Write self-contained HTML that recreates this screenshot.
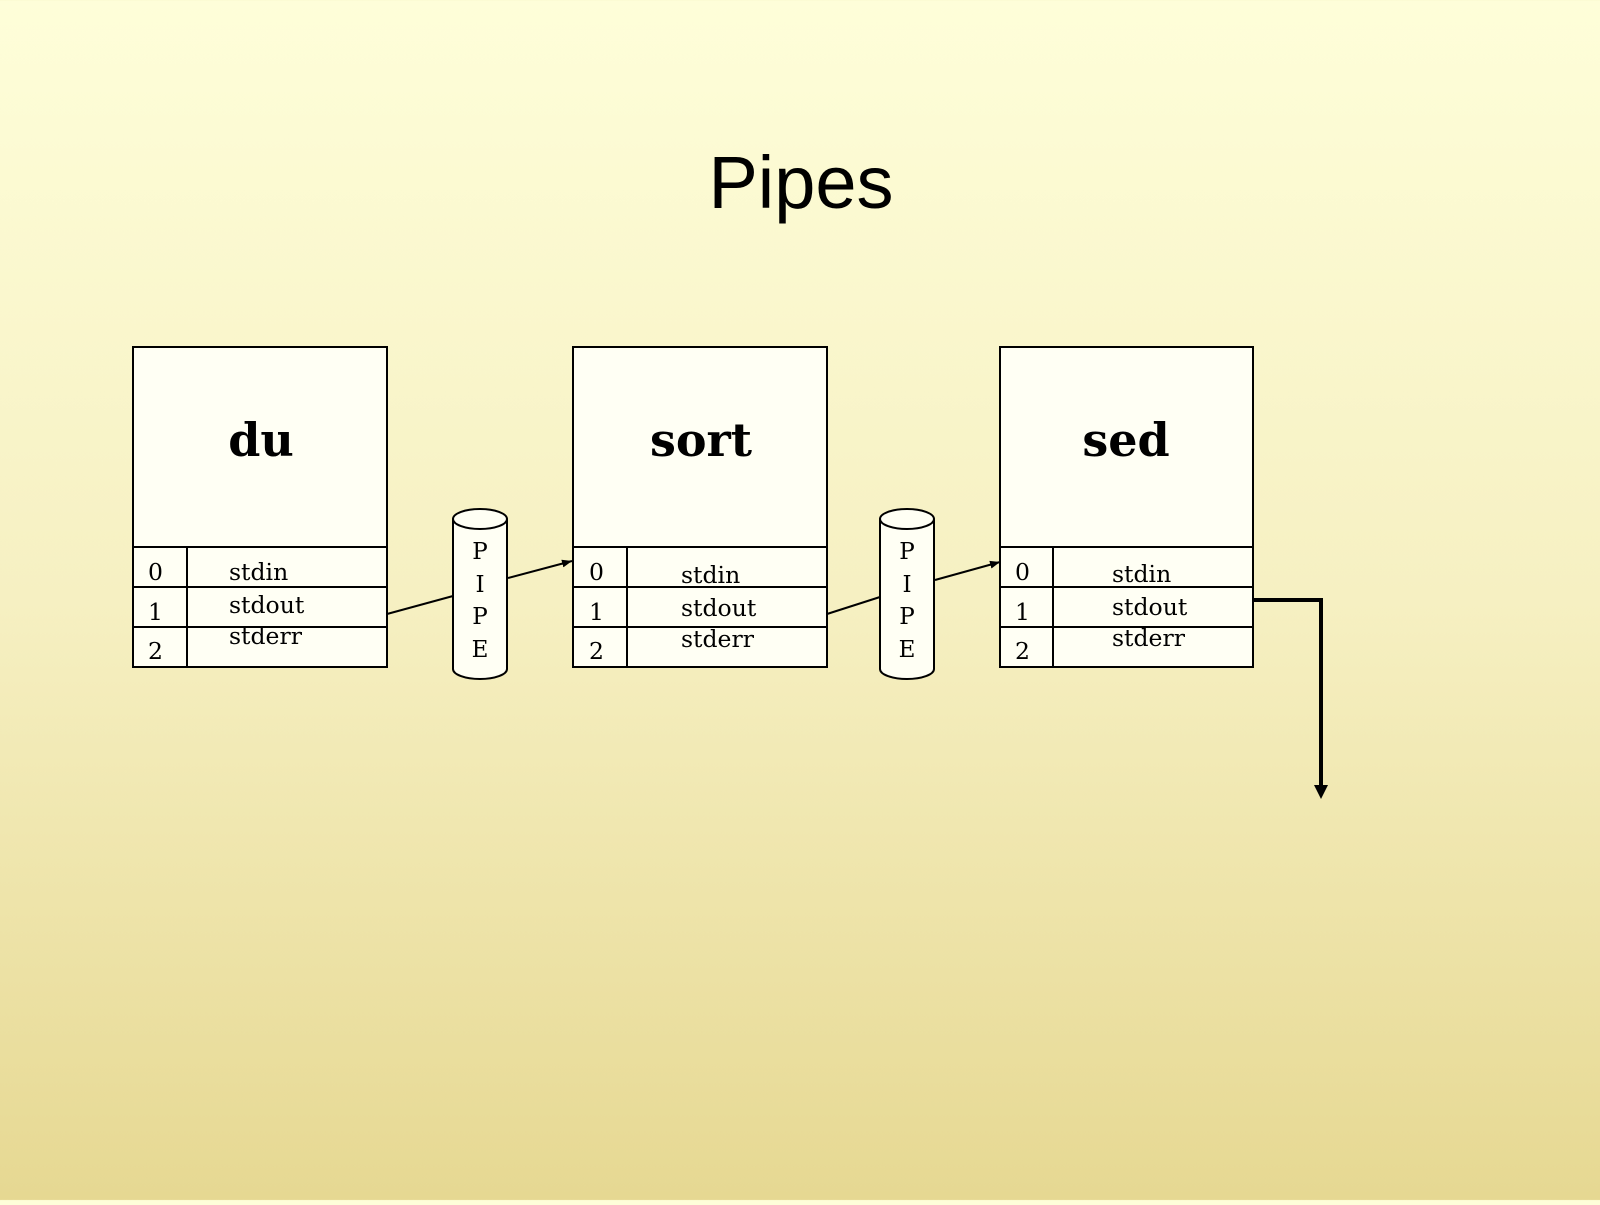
<!DOCTYPE html>
<html><head><style>
html,body{margin:0;padding:0}
body{width:1600px;height:1200px;overflow:hidden;background:linear-gradient(#fefed9,#f6f0c2 50%,#e6d892);}
</style></head><body>
<svg width="1600" height="1200" xmlns="http://www.w3.org/2000/svg">
<defs><marker id="a" markerWidth="10" markerHeight="8" refX="10" refY="4" orient="auto" markerUnits="userSpaceOnUse"><path d="M0,0 L10,4 L0,8z" fill="#000"/></marker></defs>
<text x="801" y="208" font-family="Liberation Sans, sans-serif" font-size="74" text-anchor="middle">Pipes</text>
<g stroke="#000" stroke-width="2" fill="#fffff4">
<rect x="133" y="347" width="254" height="320"/>
<rect x="573" y="347" width="254" height="320"/>
<rect x="1000" y="347" width="253" height="320"/>
</g>
<g stroke="#000" stroke-width="2" fill="none">
<path d="M133 547H387M133 587H387M133 627H387M187 547V667"/>
<path d="M573 547H827M573 587H827M573 627H827M627 547V667"/>
<path d="M1000 547H1253M1000 587H1253M1000 627H1253M1053 547V667"/>
<path d="M453 519V669A27 10 0 0 0 507 669V519" fill="#fffff4"/>
<ellipse cx="480" cy="519" rx="27" ry="10" fill="#fffff4"/>
<path d="M880 519V669A27 10 0 0 0 934 669V519" fill="#fffff4"/>
<ellipse cx="907" cy="519" rx="27" ry="10" fill="#fffff4"/>
<path d="M387 614L453 596"/>
<path d="M508 578L572 561" marker-end="url(#a)"/>
<path d="M827 614L880 597"/>
<path d="M935 580L1000 562" marker-end="url(#a)"/>
<path d="M1253 600H1321V785" stroke-width="4"/>
<path d="M1314 785H1328L1321 799z" fill="#000" stroke="none"/>
</g>
<g font-family="DejaVu Serif, serif" font-size="23.5" fill="#000">
<g font-size="46" font-weight="bold" text-anchor="middle">
<text x="261" y="456">du</text>
<text x="701" y="456">sort</text>
<text x="1126" y="456">sed</text>
</g>
<text x="148" y="580">0</text><text x="148" y="620">1</text><text x="148" y="659">2</text>
<text x="229" y="580">stdin</text><text x="229" y="613">stdout</text><text x="229" y="644">stderr</text>
<text x="589" y="580">0</text><text x="589" y="620">1</text><text x="589" y="659">2</text>
<text x="681" y="583">stdin</text><text x="681" y="616">stdout</text><text x="681" y="647">stderr</text>
<text x="1015" y="580">0</text><text x="1015" y="620">1</text><text x="1015" y="659">2</text>
<text x="1112" y="582">stdin</text><text x="1112" y="615">stdout</text><text x="1112" y="646">stderr</text>
<g text-anchor="middle" font-size="23">
<text x="480" y="559">P</text><text x="480" y="592">I</text><text x="480" y="624">P</text><text x="480" y="657">E</text>
<text x="907" y="559">P</text><text x="907" y="592">I</text><text x="907" y="624">P</text><text x="907" y="657">E</text>
</g>
</g>
</svg>
</body></html>
